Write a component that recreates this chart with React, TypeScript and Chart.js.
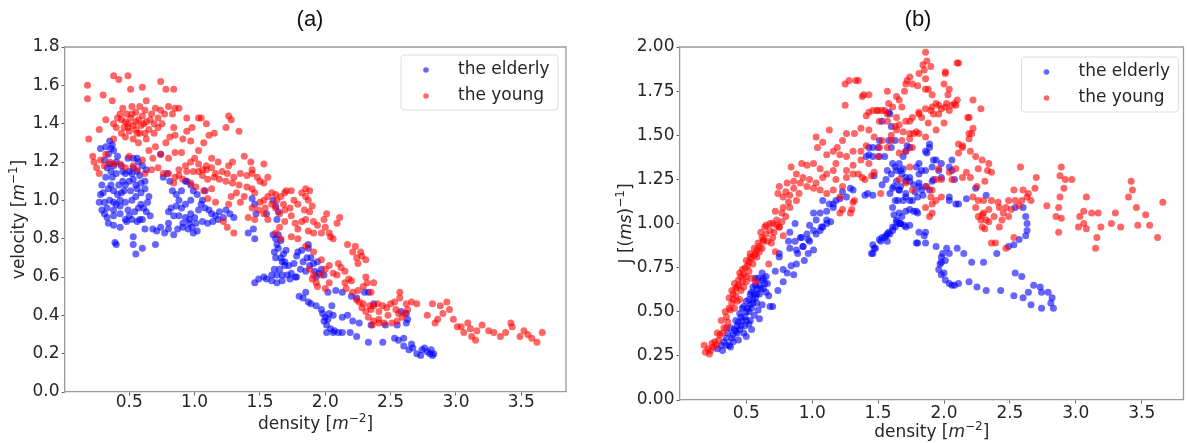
import React, { useEffect, useRef } from "react";
import { Chart, registerables } from "chart.js";
Chart.register(...registerables);

type Pt = [number, number];

// ---------- DATA (density, velocity) panel (a) ----------
const elderlyVelocity: Pt[] = [
  [0.28,1.27],[0.32,1.28],[0.35,1.31],[0.37,1.29],[0.38,1.26],[0.34,1.24],[0.31,1.21],[0.35,1.19],[0.38,1.18],[0.41,1.23],
  [0.44,1.18],[0.47,1.14],[0.50,1.10],[0.40,1.14],[0.37,1.12],[0.32,1.12],[0.29,1.08],[0.34,1.06],[0.38,1.05],[0.41,1.03],
  [0.46,1.05],[0.43,1.00],[0.38,0.99],[0.35,1.00],[0.31,0.99],[0.28,1.03],[0.27,0.99],[0.29,0.95],[0.33,0.96],[0.38,0.95],
  [0.43,0.97],[0.47,0.99],[0.52,1.00],[0.55,1.02],[0.59,1.04],[0.62,1.06],[0.56,1.06],[0.51,1.05],[0.47,1.08],[0.53,1.11],
  [0.56,1.15],[0.53,1.17],[0.49,1.22],[0.53,1.22],[0.57,1.20],[0.60,1.18],[0.58,1.13],[0.63,1.16],[0.62,1.10],[0.59,0.98],
  [0.65,1.02],[0.61,0.96],[0.57,0.96],[0.54,0.94],[0.50,0.92],[0.47,0.90],[0.43,0.93],[0.38,0.92],[0.33,0.91],[0.31,0.93],
  [0.34,0.88],[0.38,0.87],[0.43,0.86],[0.48,0.89],[0.52,0.90],[0.56,0.89],[0.60,0.90],[0.63,0.94],[0.66,0.92],[0.64,0.99],
  [0.39,0.78],[0.40,0.77],[0.53,0.81],[0.53,0.77],[0.55,0.72],[0.60,0.75],[0.70,0.77],[0.68,0.85],[0.62,0.85],[0.58,0.90],
  [0.71,0.84],[0.45,1.10],[0.42,1.08],[0.36,1.15],[0.33,1.17],[0.55,1.08],[0.50,1.15],
  [0.36,1.27],[0.40,1.20],[0.45,1.15],[0.52,1.14],[0.56,1.22],[0.59,1.09],[0.44,1.04],[0.40,0.98],[0.49,0.95],[0.36,1.08],
  [0.30,1.04],
  [0.74,1.24],[0.76,1.12],[0.79,1.14],[0.81,1.10],[0.83,1.05],[0.86,1.03],[0.90,1.05],[0.93,1.10],[0.97,1.08],[0.99,1.05],
  [1.02,1.03],[0.97,1.00],[0.93,0.98],[0.90,0.96],[0.86,0.97],[0.82,0.96],[0.80,0.94],[0.84,0.92],[0.88,0.92],[0.93,0.91],
  [0.96,0.90],[1.00,0.91],[1.03,0.95],[1.05,0.98],[1.06,1.00],[1.08,0.96],[1.11,0.95],[1.13,0.93],[1.16,0.92],[1.19,0.94],
  [1.24,0.95],[1.27,0.93],[1.30,0.91],[1.22,0.91],[1.18,0.90],[1.14,0.89],[1.10,0.88],[1.06,0.89],[1.01,0.88],[0.98,0.86],
  [0.95,0.85],[0.99,0.83],[1.02,0.84],[0.96,0.88],[0.91,0.86],[0.87,0.85],[0.84,0.82],[0.80,0.85],[0.77,0.83],[0.74,0.86],
  [0.80,0.88],[0.91,0.88],[0.97,0.93],[0.88,1.00],[1.08,1.05],[0.94,1.10],
  [1.44,1.01],[1.46,0.98],[1.47,0.93],[1.41,0.83],[1.45,0.85],[1.46,0.80],[1.55,0.93],[1.60,1.00],[1.62,0.97],[1.64,0.94],
  [1.63,0.90],
  [1.60,0.82],[1.62,0.80],[1.64,0.82],[1.66,0.79],[1.63,0.77],[1.61,0.73],[1.62,0.70],[1.66,0.70],[1.68,0.72],[1.70,0.74],
  [1.69,0.66],[1.65,0.64],[1.61,0.64],[1.59,0.61],[1.63,0.61],[1.67,0.61],[1.71,0.61],[1.74,0.62],[1.72,0.66],[1.69,0.68],
  [1.59,0.58],[1.55,0.59],[1.49,0.59],[1.46,0.57],[1.53,0.60],[1.63,0.57],[1.67,0.58],[1.73,0.59],[1.77,0.60],[1.76,0.67],
  [1.78,0.71],[1.79,0.73],[1.82,0.74],[1.86,0.70],[1.89,0.70],[1.87,0.75],[1.87,0.77],[1.83,0.68],[1.88,0.66],[1.91,0.67],
  [1.94,0.68],[1.92,0.63],[1.95,0.62],[1.99,0.61],[1.97,0.64],[1.93,0.60],[1.85,0.63],[1.81,0.64],[1.78,0.60],[1.64,0.75],
  [1.67,0.68],
  [1.80,0.50],[1.83,0.49],[1.85,0.52],[1.87,0.47],[1.89,0.46],[1.93,0.45],[1.98,0.41],[2.00,0.39],[1.99,0.37],[2.02,0.38],
  [2.03,0.41],[2.01,0.35],[2.04,0.33],[2.07,0.32],[2.10,0.31],[2.13,0.31],[2.19,0.31],[2.24,0.29],[2.33,0.26],[2.44,0.26],
  [2.53,0.28],[2.56,0.27],[2.60,0.24],[2.64,0.22],[2.67,0.23],[2.70,0.20],[2.74,0.22],[2.76,0.23],[2.78,0.21],[2.80,0.20],
  [2.82,0.19],[2.83,0.20],[2.81,0.22],[2.73,0.19],[2.66,0.25],[2.60,0.28],[2.02,0.52],[2.08,0.53],[2.13,0.52],[2.20,0.50],
  [2.24,0.49],[2.30,0.52],[2.33,0.52],[2.37,0.46],[2.13,0.39],[2.17,0.40],[2.21,0.37],[2.26,0.36],[2.35,0.35],[2.46,0.35],
  [2.55,0.35],[2.62,0.36],[2.63,0.38],[2.62,0.41],[2.58,0.42],[2.06,0.40],[2.05,0.45],[1.97,0.43],[2.01,0.31],[2.06,0.31],
];

const youngVelocity: Pt[] = [
  [0.18,1.60],[0.18,1.53],[0.19,1.32],[0.22,1.23],[0.23,1.20],[0.25,1.17],[0.27,1.37],[0.30,1.55],[0.32,1.42],[0.37,1.52],
  [0.38,1.32],[0.38,1.65],[0.42,1.63],[0.49,1.65],[0.51,1.58],[0.60,1.59],[0.63,1.52],[0.74,1.62],[0.78,1.58],[0.84,1.58],
  [0.38,1.40],[0.41,1.43],[0.44,1.42],[0.46,1.38],[0.49,1.40],[0.51,1.43],[0.53,1.39],[0.55,1.37],[0.57,1.42],[0.59,1.39],
  [0.60,1.44],[0.63,1.41],[0.65,1.37],[0.62,1.47],[0.62,1.35],[0.56,1.35],[0.50,1.36],[0.44,1.35],[0.47,1.33],[0.53,1.32],
  [0.57,1.30],[0.63,1.32],[0.69,1.35],[0.72,1.38],[0.75,1.40],[0.74,1.47],[0.80,1.49],[0.77,1.45],[0.83,1.45],[0.85,1.48],
  [0.88,1.48],[0.84,1.38],[0.81,1.33],[0.85,1.34],[0.78,1.30],[0.70,1.28],[0.65,1.26],[0.68,1.22],[0.74,1.24],[0.80,1.22],
  [0.85,1.25],[0.90,1.25],[0.91,1.32],[0.94,1.36],[0.98,1.38],[1.03,1.43],[1.05,1.43],[0.94,1.43],[0.97,1.31],[1.09,1.40],
  [1.11,1.34],[1.15,1.35],[1.24,1.38],[1.26,1.44],[1.28,1.42],[1.34,1.36],
  [0.45,1.48],[0.52,1.49],[0.55,1.46],[0.48,1.45],[0.58,1.49],[0.67,1.45],[0.70,1.48],[0.72,1.43],
  [0.40,1.38],[0.43,1.45],[0.47,1.41],[0.52,1.45],[0.58,1.35],[0.61,1.40],[0.66,1.42],[0.55,1.41],[0.49,1.38],[0.69,1.40],
  [0.72,1.17],[0.76,1.14],[0.80,1.14],[0.85,1.12],[0.88,1.16],[0.93,1.18],[0.97,1.20],[1.00,1.22],[1.03,1.26],[1.07,1.30],
  [1.03,1.19],[1.06,1.16],[1.09,1.18],[1.13,1.22],[1.18,1.20],[1.26,1.18],[1.29,1.20],[1.38,1.23],[1.43,1.20],[1.53,1.19],
  [1.44,1.16],[0.50,1.23],[0.53,1.18],[0.56,1.16],[0.60,1.21],[0.67,1.16],[0.62,1.14],[0.28,1.21],[0.31,1.18],[0.35,1.20],
  [0.38,1.19],[0.43,1.19],[0.47,1.17],[0.32,1.24],[0.27,1.14],
  [0.94,1.15],[0.99,1.15],[1.03,1.15],[1.09,1.16],[1.13,1.17],[1.16,1.14],[1.21,1.15],[1.25,1.14],[1.30,1.12],[1.35,1.14],
  [1.40,1.13],[1.44,1.14],[1.48,1.12],[1.50,1.10],[1.53,1.09],[1.06,1.13],[1.10,1.11],[1.15,1.12],[1.19,1.11],[1.24,1.10],
  [1.29,1.09],[1.34,1.08],[1.40,1.07],[1.44,1.06],[0.88,1.13],[0.91,1.11],[0.84,1.09],[0.97,1.09],[1.01,1.07],[1.07,1.05],
  [1.13,1.06],[1.10,1.01],[1.16,0.99],[1.26,0.98],[1.28,1.02],[1.32,1.04],[1.38,1.02],[1.35,0.99],[1.44,0.96],[1.49,0.95],
  [1.41,0.91],[1.46,0.90],[1.50,0.99],[1.46,1.04],[1.22,0.89],[1.25,0.86],[1.30,0.83],[1.56,1.12],
  [1.53,1.00],[1.56,1.02],[1.59,1.04],[1.62,1.03],[1.63,1.00],[1.66,1.02],[1.69,1.04],[1.70,1.05],[1.74,1.05],[1.68,0.98],
  [1.59,0.98],[1.54,0.96],[1.62,0.96],[1.65,0.93],[1.69,0.95],[1.73,0.96],[1.76,1.00],[1.82,1.04],[1.85,1.02],[1.87,1.00],
  [1.88,1.05],[1.85,1.06],[1.79,0.98],[1.84,0.95],[1.90,0.97],[1.74,0.92],[1.77,0.88],[1.79,0.85],[1.82,0.89],[1.85,0.90],
  [1.88,0.94],[1.91,0.89],[1.94,0.87],[1.99,0.90],[2.01,0.93],[2.00,0.86],[2.03,0.83],[2.06,0.80],[2.11,0.91],[2.09,0.88],
  [2.04,0.81],[1.97,0.83],[1.91,0.83],[1.87,0.84],[1.69,0.89],[1.65,0.86],[1.56,0.90],[1.53,0.93],[1.62,0.83],[1.66,0.80],
  [1.74,0.81],[1.79,0.80],[1.85,0.76],[1.91,0.73],[1.97,0.69],[2.17,0.77],[2.21,0.73],[2.23,0.76],[2.27,0.73],
  [1.88,0.64],[1.91,0.61],[1.93,0.57],[1.97,0.61],[2.00,0.64],[2.03,0.66],[2.06,0.62],[2.09,0.61],[2.12,0.65],[2.15,0.63],
  [2.18,0.59],[2.20,0.58],[2.25,0.67],[2.28,0.71],[2.31,0.69],[2.24,0.70],[2.10,0.67],[2.15,0.57],[2.16,0.54],[2.21,0.52],
  [2.25,0.53],[2.29,0.55],[2.32,0.57],[2.35,0.52],[2.37,0.57],[2.31,0.60],[2.03,0.57],[2.00,0.54],[1.94,0.55],[1.90,0.59],
  [2.24,0.48],[2.26,0.47],[2.29,0.46],[2.34,0.45],[2.37,0.45],[2.40,0.46],[2.44,0.45],[2.28,0.44],[2.31,0.42],[2.35,0.43],
  [2.41,0.42],[2.47,0.44],[2.50,0.46],[2.53,0.47],[2.57,0.52],[2.62,0.46],[2.66,0.47],[2.70,0.46],[2.57,0.49],[2.54,0.43],
  [2.56,0.41],[2.61,0.41],[2.63,0.43],[2.59,0.39],[2.48,0.40],[2.41,0.38],[2.37,0.37],[2.33,0.39],[2.36,0.35],[2.41,0.36],
  [2.45,0.36],[2.51,0.36],[2.55,0.37],
  [2.78,0.40],[2.82,0.46],[2.86,0.38],[2.88,0.45],[2.90,0.41],[2.95,0.43],[2.93,0.47],[2.84,0.36],[2.98,0.38],[3.01,0.34],
  [3.06,0.31],[3.09,0.36],[3.11,0.33],[3.16,0.32],[3.15,0.27],[3.20,0.35],[3.25,0.32],[3.29,0.31],[3.34,0.29],[3.38,0.31],
  [3.42,0.36],[3.43,0.34],[3.49,0.29],[3.52,0.32],[3.55,0.30],[3.58,0.28],[3.62,0.26],[3.66,0.31],[3.04,0.34],[3.12,0.29],
];

// ---------- DATA (density, J) panel (b) ----------
const elderlyFlow: Pt[] = [
  [0.28,0.29],[0.31,0.31],[0.38,0.30],[0.35,0.35],[0.40,0.37],[0.38,0.41],[0.43,0.42],[0.42,0.45],[0.47,0.45],[0.45,0.49],
  [0.50,0.50],[0.48,0.53],[0.53,0.54],[0.52,0.57],[0.55,0.57],[0.54,0.61],[0.58,0.60],[0.57,0.65],[0.60,0.65],[0.59,0.69],
  [0.63,0.69],[0.62,0.72],[0.54,0.40],[0.60,0.46],[0.62,0.54],[0.67,0.59],[0.68,0.53],[0.59,0.51],[0.49,0.42],[0.45,0.40],
  [0.50,0.36],[0.44,0.34],[0.33,0.33],[0.36,0.38],[0.41,0.40],[0.46,0.47],[0.51,0.52],[0.55,0.55],[0.57,0.58],[0.61,0.63],
  [0.56,0.48],[0.53,0.45],[0.48,0.38],[0.40,0.33],[0.32,0.28],[0.37,0.31],[0.43,0.38],[0.52,0.43],[0.58,0.55],[0.64,0.66],
  [0.65,0.61],[0.49,0.47],[0.74,0.62],[0.78,0.67],[0.81,0.72],[0.86,0.71],[0.78,0.74],[0.84,0.76],[0.88,0.77],[0.89,0.83],
  [0.94,0.79],[0.97,0.83],[1.01,0.85],[0.93,0.87],[0.98,0.90],[1.03,0.94],[1.06,0.96],[1.08,0.98],[1.11,1.00],[1.14,1.01],
  [0.83,0.86],[0.87,0.90],[0.91,0.92],[0.75,0.81],[0.72,0.73],[0.70,0.53],
  [0.44,0.44],[0.46,0.42],[0.50,0.45],[0.52,0.50],[0.54,0.52],[0.56,0.60],[0.58,0.63],[0.60,0.60],[0.57,0.69],[0.55,0.64],
  [0.53,0.60],[0.50,0.56],[0.47,0.52],[0.42,0.39],[0.39,0.35],[0.35,0.31],[0.62,0.68],[0.65,0.70],[0.63,0.63],[0.66,0.66],
  [1.31,1.19],[1.26,1.15],[1.23,1.18],[1.18,1.13],[1.13,1.11],[1.16,1.09],[1.11,1.07],[1.08,1.13],[1.06,1.06],[1.01,1.06],
  [1.03,1.02],[0.98,0.99],[1.01,0.96],[0.96,0.94],[0.92,0.92],[0.97,0.91],[0.93,0.87],[0.88,0.85],[0.87,1.00],[0.83,0.95],
  [0.82,0.90],[0.75,0.83],[1.07,0.98],[1.11,1.02],[1.21,1.14],[1.16,1.11],[1.29,1.20],
  [1.58,1.63],[1.53,1.58],[1.58,1.47],[1.51,1.47],[1.43,1.43],[1.41,1.38],[1.46,1.38],[1.61,1.34],[1.64,1.30],[1.66,1.34],
  [1.69,1.38],[1.71,1.41],[1.74,1.43],[1.64,1.24],[1.61,1.20],[1.66,1.19],[1.65,1.13],[1.61,1.09],[1.66,1.06],[1.64,1.02],
  [1.67,1.00],[1.61,0.96],[1.57,0.94],[1.53,0.92],[1.51,0.91],[1.71,1.17],[1.74,1.13],[1.74,1.08],[1.71,1.24],[1.79,1.32],
  [1.81,1.28],[1.86,1.30],[1.89,1.43],[1.87,1.40],[1.92,1.36],[1.91,1.24],[1.86,1.21],[1.81,1.21],[1.84,1.16],[2.06,1.30],
  [2.08,1.25],[2.09,1.11],[1.79,0.89],[1.86,0.89],[1.86,0.95],[1.46,0.88],[1.40,1.16],[1.46,1.16],[1.53,1.22],[1.51,1.38],
  [1.46,0.83],[1.47,0.86],[1.52,0.90],[1.56,0.93],[1.58,0.95],[1.61,0.98],[1.64,1.01],[1.70,0.99],[1.74,0.99],
  [1.94,0.87],[1.99,0.83],[2.01,0.79],[1.97,0.77],[1.96,0.74],[2.00,0.72],[2.01,0.68],[2.04,0.66],[2.08,0.65],
  [1.89,1.45],[1.86,1.41],[1.81,1.34],[1.83,1.30],[1.91,1.32],[1.94,1.36],[1.92,1.25],[1.83,1.19],[1.89,1.19],[1.81,1.23],
  [1.74,1.26],[1.68,1.28],[1.66,1.19],[1.71,1.15],[1.76,1.13],[1.79,1.07],[1.71,1.07],[1.68,1.04],[1.66,1.00],[2.06,1.36],
  [2.04,1.32],[1.98,1.34],[1.96,1.30],[1.98,1.26],[2.04,1.13],[1.81,0.95],[1.85,0.93],[1.80,0.89],
  [2.02,0.86],[2.04,0.83],[2.10,0.86],[2.15,0.83],[2.21,0.78],[2.30,0.78],[1.98,0.81],[1.98,0.78],[1.98,0.71],[2.06,0.65],
  [2.11,0.66],[2.19,0.67],[2.25,0.64],[2.32,0.62],[2.43,0.62],[2.53,0.59],[2.60,0.58],[2.64,0.61],[2.68,0.65],[2.73,0.64],
  [2.74,0.61],[2.79,0.61],[2.82,0.58],[2.81,0.55],[2.83,0.52],[2.74,0.52],[2.66,0.54],[2.54,0.72],[2.59,0.70],
  [2.24,1.20],[2.32,1.16],[2.54,1.09],[2.60,1.09],[2.62,1.04],[2.63,1.00],[2.63,0.96],[2.62,0.93],[2.57,0.91],[2.53,0.88],
  [2.49,0.87],[2.40,0.83],[2.11,1.11],[2.17,1.14],[2.04,1.15],
  [1.47,1.27],[1.43,1.39],[1.46,1.43],[1.50,1.43],[1.55,1.38],[1.59,1.62],[1.60,1.55],[1.63,1.47],[1.60,1.43],[1.57,1.30],
  [1.56,1.25],[1.60,1.28],[1.63,1.32],[1.62,1.21],[1.59,1.17],[1.63,1.13],[1.62,1.05],[1.63,0.98],[1.59,0.94],[1.55,0.92],
  [1.48,0.86],[1.45,0.83],[1.57,0.90],[1.67,1.00],[1.71,0.98],[1.69,1.13],[1.67,1.21],[1.71,1.26],[1.74,1.24],[1.77,1.22],
  [1.78,1.18],[1.80,1.15],[1.77,1.07],[1.80,1.06],[1.72,1.44],[1.67,1.30],[1.69,1.31],[1.42,1.17],
];

const youngFlow: Pt[] = [
  [0.18,0.31],[0.19,0.27],[0.23,0.28],[0.25,0.30],[0.21,0.29],[0.26,0.33],[0.28,0.38],[0.30,0.37],[0.33,0.41],[0.31,0.45],
  [0.35,0.47],[0.38,0.51],[0.39,0.55],[0.42,0.59],[0.39,0.62],[0.43,0.64],[0.44,0.68],[0.47,0.67],[0.48,0.71],[0.50,0.70],
  [0.54,0.69],[0.57,0.67],[0.49,0.75],[0.50,0.79],[0.53,0.83],[0.55,0.77],[0.58,0.81],[0.60,0.87],[0.63,0.90],[0.65,0.94],
  [0.67,0.77],[0.65,0.99],[0.70,1.00],[0.75,0.98],[0.78,0.93],[0.69,0.89],[0.72,0.84],[0.45,0.57],[0.36,0.44],[0.34,0.50],
  [0.41,0.52],[0.46,0.62],[0.52,0.73],[0.56,0.86],[0.59,0.89],[0.62,0.86],[0.57,0.83],[0.53,0.81],[0.45,0.72],[0.41,0.66],
  [0.37,0.58],[0.29,0.34],[0.24,0.32],[0.61,0.95],[0.68,0.96],
  [0.40,0.60],[0.42,0.63],[0.44,0.65],[0.46,0.70],[0.47,0.74],[0.51,0.76],[0.52,0.78],[0.54,0.80],[0.56,0.82],[0.58,0.85],
  [0.60,0.84],[0.40,0.57],[0.37,0.52],[0.35,0.41],[0.32,0.38],[0.27,0.31],[0.22,0.26],[0.48,0.64],[0.50,0.67],[0.43,0.56],
  [0.62,0.92],[0.66,0.90],[0.71,0.95],[0.73,0.99],[0.77,1.01],[0.80,1.04],[0.82,1.12],[0.80,1.18],[0.86,1.20],[0.90,1.17],
  [1.86,1.97],[1.87,1.92],[1.84,1.90],[1.90,1.89],[1.81,1.85],[1.86,1.82],[2.01,1.85],[2.10,1.91],[2.00,1.79],[2.03,1.73],
  [1.91,1.73],[1.86,1.76],[1.74,1.83],[1.71,1.79],[1.76,1.79],[1.80,1.78],[1.70,1.75],[1.64,1.72],[1.66,1.70],[1.61,1.66],
  [1.58,1.68],[1.57,1.75],[1.53,1.64],[1.50,1.64],[1.46,1.64],[1.43,1.63],[1.41,1.61],[1.51,1.58],[1.57,1.58],[1.64,1.60],
  [1.66,1.56],[1.71,1.58],[1.76,1.60],[1.81,1.63],[1.86,1.65],[1.90,1.64],[1.96,1.62],[2.01,1.66],[2.06,1.67],[2.10,1.70],
  [2.00,1.57],[1.94,1.53],[1.86,1.49],[1.79,1.52],[1.74,1.48],[1.64,1.53],[1.60,1.50],[1.53,1.47],[1.47,1.49],[1.43,1.53],
  [1.37,1.54],[1.32,1.51],[1.26,1.51],[1.23,1.47],[1.19,1.43],[1.16,1.41],[1.13,1.53],[1.03,1.49],[1.08,1.46],[1.04,1.43],
  [1.11,1.39],[1.21,1.39],[1.26,1.38],[1.31,1.41],[1.37,1.41],[1.41,1.44],[1.51,1.43],[1.57,1.43],[1.37,1.36],[1.31,1.33],
  [1.26,1.30],[1.18,1.34],[1.16,1.30],[1.11,1.28],[1.06,1.31],[1.01,1.34],[0.96,1.33],[0.92,1.34],[0.84,1.32],[0.88,1.28],
  [0.93,1.26],[0.98,1.25],[1.03,1.23],[1.08,1.26],[1.18,1.25],[1.26,1.26],[1.31,1.28],[1.23,1.21],[1.16,1.19],[1.11,1.17],
  [1.06,1.19],[1.01,1.20],[0.96,1.21],[0.91,1.23],[0.86,1.24],[0.81,1.23],[0.75,1.21],[0.74,1.17],[0.78,1.15],[0.83,1.16],
  [0.88,1.13],[0.83,1.09],[0.78,1.09],[0.77,1.06],[0.72,1.07],[0.73,1.02],[0.75,0.98],[0.68,1.00],[0.64,0.98],[0.70,0.92],
  [0.63,0.91],[1.21,1.15],[1.23,1.08],[1.30,1.08],[1.31,1.12],[1.25,1.79],[1.28,1.81],[1.33,1.81],[1.25,1.67],[1.38,1.72],
  [1.43,1.73],[1.52,1.17],[1.38,1.26],[1.45,1.27],[1.91,1.11],[1.91,1.06],[1.90,1.15],[1.87,1.21],
  [1.21,1.06],[1.29,1.06],[1.32,1.13],[1.35,1.28],[1.40,1.25],[1.47,1.29],[1.43,1.34],[1.50,1.38],[1.57,1.62],[1.60,1.47],
  [1.66,1.40],[1.71,1.41],[1.74,1.32],[1.88,1.57],[1.83,1.60],[1.77,1.51],[1.69,1.52],[1.63,1.55],[2.04,1.64],[1.98,1.65],
  [1.94,1.68],[1.92,1.62],[2.08,1.68],[2.22,1.70],[2.28,1.65],[2.18,1.60],[2.22,1.54],[2.19,1.51],[2.19,1.48],[2.14,1.44],
  [2.11,1.45],[2.04,1.76],[2.11,1.91],[2.01,1.86],[1.88,1.76],[1.85,1.87],[1.72,1.81],[1.35,1.81],[1.39,1.73],[1.49,1.64],
  [1.55,1.64],
  [1.68,1.66],[1.74,1.58],[1.81,1.62],[1.91,1.66],[1.96,1.67],[2.02,1.68],[2.09,1.67],[2.19,1.60],[2.21,1.51],[2.14,1.43],
  [2.11,1.40],[2.20,1.41],[2.24,1.38],[2.29,1.36],[2.34,1.34],[2.36,1.29],[2.26,1.31],[2.17,1.29],[2.20,1.26],[2.14,1.26],
  [2.06,1.25],[2.04,1.29],[2.09,1.31],[1.98,1.25],[1.94,1.25],[1.96,1.31],[1.91,1.19],[1.94,1.13],[1.98,1.15],[1.86,1.09],
  [1.89,1.04],[1.76,1.19],[1.71,1.23],[1.66,1.25],[1.68,1.47],[1.74,1.51],[1.76,1.43],[1.81,1.51],
  [2.58,1.32],[2.70,1.26],[2.78,1.10],[2.85,1.04],[2.87,0.95],[2.89,1.32],[2.88,1.27],[2.91,1.20],[2.88,1.15],[2.87,1.09],
  [2.89,1.03],[2.92,1.25],[2.97,1.25],[3.08,1.15],[3.06,1.07],[3.12,1.06],[3.17,1.06],[3.03,1.04],[3.06,1.00],[3.02,0.98],
  [3.08,0.97],[3.19,0.98],[3.16,0.92],[3.15,0.86],[3.27,1.00],[3.30,1.06],[3.34,0.98],[3.42,1.24],[3.43,1.19],[3.40,1.15],
  [3.46,1.09],[3.53,1.05],[3.47,0.99],[3.56,0.99],[3.62,0.92],[3.66,1.12],
  [2.69,1.20],[2.60,1.19],[2.64,1.17],[2.53,1.19],[2.49,1.13],[2.54,1.13],[2.47,1.09],[2.59,1.13],[2.63,1.15],[2.66,1.13],
  [2.57,1.10],[2.51,1.08],[2.49,1.04],[2.53,0.92],[2.47,0.86],[2.39,0.89],[2.36,0.89],[2.42,0.98],[2.29,0.98],[2.26,1.04],
  [2.30,1.06],[2.34,1.08],[2.24,1.09],[2.26,1.13],[2.30,1.13],[2.36,1.13],[2.42,1.09],[2.38,1.04],[2.34,1.01],[2.32,1.02],
  [2.29,1.05],[2.31,0.97],[2.28,1.02],[2.25,1.21],[2.31,1.24],[2.22,1.15],[2.41,1.12],[2.45,1.06],[2.33,1.30],[2.44,1.02],
];

const densityTicks = [0.5, 1.0, 1.5, 2.0, 2.5, 3.0, 3.5];
const velocityTicks = [0.0, 0.2, 0.4, 0.6, 0.8, 1.0, 1.2, 1.4, 1.6, 1.8];
const flowTicks = [0.0, 0.25, 0.5, 0.75, 1.0, 1.25, 1.5, 1.75, 2.0];
const seriesLabels = ["the elderly", "the young"];
const panelTitles = ["(a)", "(b)"];

// ---------- STYLE ----------
const BLUE = "rgba(0,0,255,0.6)";
const RED = "rgba(255,0,0,0.6)";
const FONT = '"DejaVu Sans", "Liberation Sans", sans-serif';
const TEXT = "#262626";
const SPINE = "#9a9a9a";

type Seg = { t: string; it?: boolean; sup?: boolean };

function drawRich(ctx: CanvasRenderingContext2D, segs: Seg[], cx: number, cy: number, size: number) {
  const fontOf = (s: Seg) => `${s.it ? "italic " : ""}${s.sup ? Math.round(size * 0.7) : size}px ${FONT}`;
  const widths = segs.map((s) => {
    ctx.font = fontOf(s);
    return ctx.measureText(s.t).width;
  });
  const total = widths.reduce((a, b) => a + b, 0);
  let x = cx - total / 2;
  ctx.textAlign = "left";
  ctx.textBaseline = "middle";
  segs.forEach((s, i) => {
    ctx.font = fontOf(s);
    ctx.fillText(s.t, x, s.sup ? cy - size * 0.36 : cy);
    x += widths[i];
  });
}

interface PanelCfg {
  title: string;
  titleX: number;
  titleY: number;
  elderly: Pt[];
  young: Pt[];
  yTicks: number[];
  decimals: number;
  xMin: number;
  xMax: number;
  yMax: number;
  width: number;
  yAxisWidth: number;
  xAxisHeight: number;
  padRight: number;
  xTickPad: number;
  xLabel: Seg[];
  xLabelY: number;
  yLabel: Seg[];
  yLabelX: number;
  legendInset: [number, number];
}

function makeDecor(p: PanelCfg) {
  return {
    id: "decor",
    afterDraw(chart: any) {
      const ctx: CanvasRenderingContext2D = chart.ctx;
      const a = chart.chartArea;
      ctx.save();
      ctx.strokeStyle = SPINE;
      ctx.lineWidth = 1.3;
      ctx.beginPath();
      ctx.moveTo(a.left, a.top);
      ctx.lineTo(a.right, a.top);
      ctx.lineTo(a.right, a.bottom);
      ctx.stroke();
      ctx.fillStyle = "#111";
      ctx.font = `22px "Liberation Sans", Arial, sans-serif`;
      ctx.textAlign = "center";
      ctx.textBaseline = "middle";
      ctx.fillText(p.title, p.titleX, p.titleY);
      ctx.fillStyle = TEXT;
      drawRich(ctx, p.xLabel, (a.left + a.right) / 2, p.xLabelY, 17);
      ctx.save();
      ctx.translate(p.yLabelX, (a.top + a.bottom) / 2);
      ctx.rotate(-Math.PI / 2);
      drawRich(ctx, p.yLabel, 0, 0, 17);
      ctx.restore();
      const w = 157, h = 55;
      const lx = a.right - p.legendInset[0] - w;
      const ly = a.top + p.legendInset[1];
      ctx.beginPath();
      const r = 3;
      ctx.moveTo(lx + r, ly);
      ctx.arcTo(lx + w, ly, lx + w, ly + h, r);
      ctx.arcTo(lx + w, ly + h, lx, ly + h, r);
      ctx.arcTo(lx, ly + h, lx, ly, r);
      ctx.arcTo(lx, ly, lx + w, ly, r);
      ctx.closePath();
      ctx.fillStyle = "rgba(255,255,255,0.85)";
      ctx.fill();
      ctx.strokeStyle = "#dcdcdc";
      ctx.lineWidth = 1;
      ctx.stroke();
      const colors = [BLUE, RED];
      seriesLabels.forEach((lab, i) => {
        const yy = ly + 15 + i * 26;
        ctx.beginPath();
        ctx.fillStyle = colors[i];
        ctx.arc(lx + 25, yy, 2.8, 0, Math.PI * 2);
        ctx.fill();
        ctx.fillStyle = TEXT;
        ctx.font = `17px ${FONT}`;
        ctx.textAlign = "left";
        ctx.textBaseline = "middle";
        ctx.fillText(lab, lx + 57, yy);
      });
      ctx.restore();
    },
  };
}

function Panel({ p, left }: { p: PanelCfg; left: number }) {
  const ref = useRef<HTMLCanvasElement>(null);
  useEffect(() => {
    if (!ref.current) return;
    const toXY = (arr: Pt[]) => arr.map(([x, y]) => ({ x, y }));
    const chart = new Chart(ref.current, {
      type: "scatter",
      data: {
        datasets: [
          {
            label: seriesLabels[0],
            data: toXY(p.elderly),
            backgroundColor: BLUE,
            borderWidth: 0,
            pointRadius: 3.5,
            pointHoverRadius: 3.5,
            order: 1,
          },
          {
            label: seriesLabels[1],
            data: toXY(p.young),
            backgroundColor: RED,
            borderWidth: 0,
            pointRadius: 3.5,
            pointHoverRadius: 3.5,
            order: 0,
          },
        ],
      },
      options: {
        animation: false,
        responsive: false,
        maintainAspectRatio: false,
        events: [],
        layout: { padding: { top: 47, right: p.padRight, left: 0, bottom: 0 } },
        plugins: { legend: { display: false }, title: { display: false }, tooltip: { enabled: false } },
        scales: {
          x: {
            type: "linear",
            min: p.xMin,
            max: p.xMax,
            afterBuildTicks: (s: any) => {
              s.ticks = densityTicks.map((value) => ({ value }));
            },
            afterFit: (s: any) => {
              s.height = p.xAxisHeight;
            },
            ticks: {
              callback: (v: any) => Number(v).toFixed(1),
              font: { family: FONT, size: 17 },
              color: TEXT,
              padding: p.xTickPad,
              maxRotation: 0,
              autoSkip: false,
            },
            grid: { display: true, drawOnChartArea: false, drawTicks: true, tickLength: 3.5, tickColor: "#666", tickWidth: 1 },
            border: { display: true, color: SPINE, width: 1.3 },
          },
          y: {
            type: "linear",
            min: 0,
            max: p.yMax,
            afterBuildTicks: (s: any) => {
              s.ticks = p.yTicks.map((value) => ({ value }));
            },
            afterFit: (s: any) => {
              s.width = p.yAxisWidth;
            },
            ticks: {
              callback: (v: any) => Number(v).toFixed(p.decimals),
              font: { family: FONT, size: 17 },
              color: TEXT,
              padding: 2,
              autoSkip: false,
            },
            grid: { display: true, drawOnChartArea: false, drawTicks: true, tickLength: 3.5, tickColor: "#666", tickWidth: 1 },
            border: { display: true, color: SPINE, width: 1.3 },
          },
        },
      },
      plugins: [makeDecor(p)],
    } as any);
    return () => chart.destroy();
  }, [p]);
  return (
    <canvas
      ref={ref}
      width={p.width}
      height={443}
      style={{ position: "absolute", left, top: 0, width: p.width, height: 443, display: "block" }}
    />
  );
}

const panelA: PanelCfg = {
  title: panelTitles[0],
  titleX: 310,
  titleY: 20,
  elderly: elderlyVelocity,
  young: youngVelocity,
  yTicks: velocityTicks,
  decimals: 1,
  xMin: 0.008,
  xMax: 3.842,
  yMax: 1.8,
  width: 600,
  yAxisWidth: 65,
  xAxisHeight: 51,
  padRight: 34,
  xTickPad: -3,
  xLabel: [{ t: "density [" }, { t: "m", it: true }, { t: "\u22122", sup: true }, { t: "]" }],
  xLabelY: 425,
  yLabel: [{ t: "velocity [" }, { t: "m", it: true }, { t: "\u22121", sup: true }, { t: "]" }],
  yLabelX: 20,
  legendInset: [8, 8],
};

const panelB: PanelCfg = {
  title: panelTitles[1],
  titleX: 318,
  titleY: 20,
  elderly: elderlyFlow,
  young: youngFlow,
  yTicks: flowTicks,
  decimals: 2,
  xMin: -0.003,
  xMax: 3.817,
  yMax: 2.0,
  width: 587,
  yAxisWidth: 80,
  xAxisHeight: 43,
  padRight: 1,
  xTickPad: 0,
  xLabel: [{ t: "density [" }, { t: "m", it: true }, { t: "\u22122", sup: true }, { t: "]" }],
  xLabelY: 433,
  yLabel: [{ t: "J [(" }, { t: "ms", it: true }, { t: ")" }, { t: "\u22121", sup: true }, { t: "]" }],
  yLabelX: 27,
  legendInset: [5, 10],
};

export default function App() {
  return (
    <div style={{ position: "fixed", left: 0, top: 0, width: 1187, height: 443, background: "#fff", overflow: "hidden" }}>
      <Panel p={panelA} left={0} />
      <Panel p={panelB} left={600} />
    </div>
  );
}
